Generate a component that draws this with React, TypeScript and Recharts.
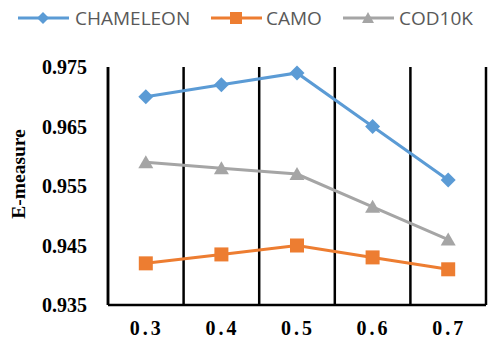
import React from 'react';
import { LineChart, Line, XAxis, YAxis, CartesianGrid } from 'recharts';

const categories = ['0.3', '0.4', '0.5', '0.6', '0.7'];
const chameleon = [0.97, 0.972, 0.974, 0.965, 0.956];
const camo = [0.942, 0.9435, 0.945, 0.943, 0.941];
const cod10k = [0.959, 0.958, 0.957, 0.9515, 0.946];
const yTicks = [0.935, 0.945, 0.955, 0.965, 0.975];

const data = categories.map((c, i) => ({
  name: c,
  chameleon: chameleon[i],
  camo: camo[i],
  cod10k: cod10k[i],
}));

const BLUE = '#5B9BD5';
const ORANGE = '#ED7D31';
const GRAY = '#A5A5A5';

const Diamond = (props: any) => {
  const { cx, cy } = props;
  if (cx == null || cy == null) return null;
  const r = 7.5;
  return <polygon points={`${cx},${cy - r} ${cx + r},${cy} ${cx},${cy + r} ${cx - r},${cy}`} fill={BLUE} />;
};

const Square = (props: any) => {
  const { cx, cy } = props;
  if (cx == null || cy == null) return null;
  return <rect x={cx - 7} y={cy - 7} width={14} height={14} fill={ORANGE} />;
};

const Triangle = (props: any) => {
  const { cx, cy } = props;
  if (cx == null || cy == null) return null;
  return <polygon points={`${cx},${cy - 7} ${cx + 7.5},${cy + 6} ${cx - 7.5},${cy + 6}`} fill={GRAY} />;
};

const XTick = (props: any) => {
  const { x, payload } = props;
  return (
    <text x={x + 1} y={335} textAnchor="middle" fontFamily="'Liberation Serif', serif" fontWeight="bold" fontSize={20} fill="#000" style={{ letterSpacing: 3 }}>
      {payload.value}
    </text>
  );
};

const YTick = (props: any) => {
  const { y, payload } = props;
  return (
    <text x={87} y={y + 7} textAnchor="end" fontFamily="'Liberation Serif', serif" fontWeight="bold" fontSize={20} fill="#000">
      {payload.value.toFixed(3)}
    </text>
  );
};

// vertical separators sit on the boundaries between categories
const boundaryLines = ({ offset }: any) =>
  [0, 1, 2, 3, 4, 5].map((i) => offset.left + (offset.width * i) / categories.length);

const legendItems = [
  { label: 'CHAMELEON', color: BLUE, shape: 'diamond', x: 18, tx: 75 },
  { label: 'CAMO', color: ORANGE, shape: 'square', x: 211, tx: 266 },
  { label: 'COD10K', color: GRAY, shape: 'triangle', x: 343, tx: 399 },
];

const LegendBar = () => (
  <svg width={496} height={36} style={{ position: 'absolute', left: 0, top: 0 }}>
    {legendItems.map((it) => {
      const cx = it.x + 25;
      const cy = 18;
      return (
        <g key={it.label}>
          <line x1={it.x} x2={it.x + 51} y1={cy} y2={cy} stroke={it.color} strokeWidth={3} />
          {it.shape === 'diamond' && (
            <polygon points={`${cx},${cy - 6} ${cx + 6},${cy} ${cx},${cy + 6} ${cx - 6},${cy}`} fill={it.color} />
          )}
          {it.shape === 'square' && <rect x={cx - 6} y={cy - 6} width={12} height={12} fill={it.color} />}
          {it.shape === 'triangle' && (
            <polygon points={`${cx},${cy - 6} ${cx + 6},${cy + 5} ${cx - 6},${cy + 5}`} fill={it.color} />
          )}
          <text x={it.tx} y={cy + 7} fontFamily="'Open Sans', sans-serif" fontSize={19} fill="#595959">
            {it.label}
          </text>
        </g>
      );
    })}
  </svg>
);

const App = () => {
  return (
    <div style={{ position: 'absolute', left: 0, top: 0, width: 496, height: 348, background: '#fff' }}>
      <LegendBar />
      <LineChart width={496} height={348} data={data} margin={{ top: 67, right: 10, bottom: 0, left: 0 }} style={{ position: 'absolute', left: 0, top: 0 }}>
        <CartesianGrid horizontal={false} stroke="#000" strokeWidth={2.5} verticalCoordinatesGenerator={boundaryLines} />
        <XAxis
          dataKey="name"
          height={43}
          padding={{ left: 37.8, right: 37.8 }}
          axisLine={{ stroke: '#000', strokeWidth: 2.5 }}
          tickLine={false}
          tick={<XTick />}
        />
        <YAxis
          width={108}
          domain={[0.935, 0.975]}
          ticks={yTicks}
          axisLine={{ stroke: '#000', strokeWidth: 2.5 }}
          tickLine={false}
          tick={<YTick />}
          label={{
            content: () => (
              <text x={25} y={174} transform="rotate(-90 25 174)" textAnchor="middle" fontFamily="'Liberation Serif', serif" fontWeight="bold" fontSize={19.5} fill="#000">
                E-measure
              </text>
            ),
          }}
        />
        <Line dataKey="chameleon" stroke={BLUE} strokeWidth={3} dot={<Diamond />} isAnimationActive={false} />
        <Line dataKey="camo" stroke={ORANGE} strokeWidth={3} dot={<Square />} isAnimationActive={false} />
        <Line dataKey="cod10k" stroke={GRAY} strokeWidth={3} dot={<Triangle />} isAnimationActive={false} />
      </LineChart>
    </div>
  );
};

export default App;
